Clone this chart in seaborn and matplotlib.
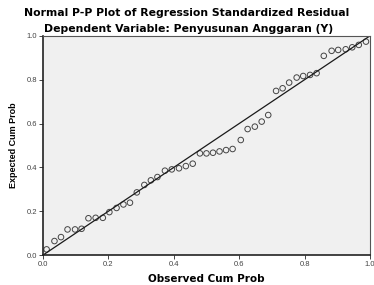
import matplotlib
matplotlib.use("Agg")
import matplotlib.pyplot as plt
import seaborn as sns
import pandas as pd

# --- data ---
observed_cum_prob = [0.011, 0.035, 0.055, 0.075, 0.098, 0.118, 0.139, 0.161, 0.183, 0.203,
                     0.225, 0.246, 0.266, 0.287, 0.310, 0.330, 0.350, 0.373, 0.394, 0.416,
                     0.437, 0.458, 0.480, 0.500, 0.520, 0.540, 0.560, 0.580, 0.605, 0.626,
                     0.648, 0.669, 0.689, 0.713, 0.733, 0.753, 0.776, 0.796, 0.817, 0.837,
                     0.859, 0.883, 0.903, 0.926, 0.946, 0.966, 0.988]
expected_cum_prob = [0.026, 0.064, 0.082, 0.117, 0.117, 0.120, 0.168, 0.170, 0.170, 0.196,
                     0.215, 0.231, 0.239, 0.286, 0.320, 0.341, 0.356, 0.385, 0.391, 0.396,
                     0.406, 0.417, 0.464, 0.464, 0.467, 0.473, 0.479, 0.484, 0.525, 0.575,
                     0.586, 0.609, 0.639, 0.749, 0.761, 0.787, 0.810, 0.817, 0.822, 0.830,
                     0.909, 0.932, 0.936, 0.939, 0.948, 0.959, 0.974]
ref_line = [0.0, 1.0]
tick_vals = [0.0, 0.2, 0.4, 0.6, 0.8, 1.0]
tick_labels = ['0.0', '0.2', '0.4', '0.6', '0.8', '1.0']

df = pd.DataFrame({'observed': observed_cum_prob, 'expected': expected_cum_prob})
line_df = pd.DataFrame({'x': ref_line, 'y': ref_line})

sns.set_style('white')
plt.rcParams['font.family'] = ['Liberation Sans', 'DejaVu Sans']
plt.rcParams['text.color'] = 'black'
plt.rcParams['axes.labelcolor'] = 'black'

fig = plt.figure(figsize=(3.74, 2.85), dpi=100)
ax = fig.add_axes([0.115, 0.105, 0.874, 0.769])
ax.set_facecolor('#f0f0f0')

sns.lineplot(data=line_df, x='x', y='y', ax=ax, color='#1a1a1a', linewidth=0.9)
sns.scatterplot(data=df, x='observed', y='expected', ax=ax, marker='o', s=16,
                facecolor='none', edgecolor='#444444', linewidth=0.7)

ax.set_xlim(0, 1)
ax.set_ylim(0, 1)
ax.set_xticks(tick_vals)
ax.set_xticklabels(tick_labels)
ax.set_yticks(tick_vals)
ax.set_yticklabels(tick_labels)
ax.tick_params(axis='both', labelsize=5.5, colors='#444444', length=3, width=0.7,
               direction='out', left=True, bottom=True, pad=1.5)

for s in ['left', 'bottom']:
    ax.spines[s].set_color('#222222')
    ax.spines[s].set_linewidth(1.2)
for s in ['top', 'right']:
    ax.spines[s].set_color('#555555')
    ax.spines[s].set_linewidth(0.8)

ax.set_xlabel('Observed Cum Prob', fontsize=7.5, fontweight='bold', labelpad=4,
              family='DejaVu Sans', color='black')
ax.set_ylabel('Expected Cum Prob', fontsize=6.5, fontweight='bold', labelpad=6,
              color='black')

fig.text(0.5, 0.954, 'Normal P-P Plot of Regression Standardized Residual',
         ha='center', va='center', fontsize=7.8, fontweight='bold', family='DejaVu Sans',
         color='black')
fig.text(0.505, 0.898, 'Dependent Variable: Penyusunan Anggaran (Y)',
         ha='center', va='center', fontsize=7.8, fontweight='bold', family='DejaVu Sans',
         color='black')

fig.savefig('out.png', dpi=100, facecolor='white')
